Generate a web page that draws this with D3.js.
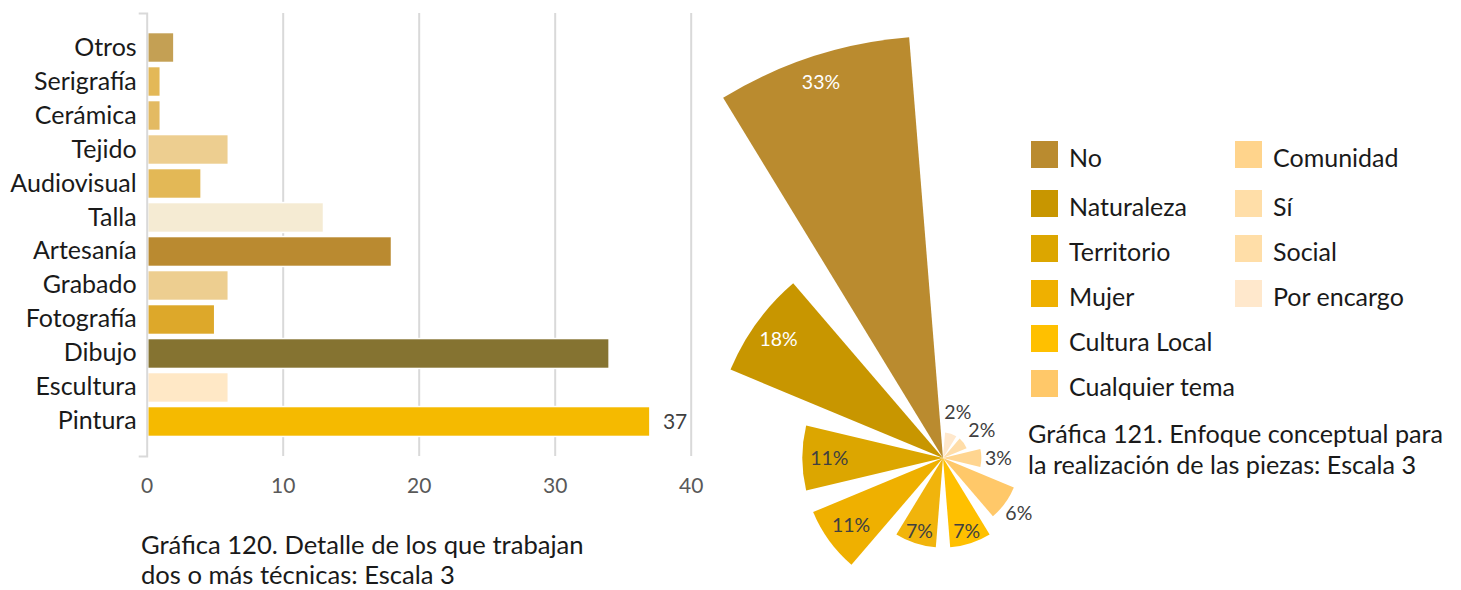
<!DOCTYPE html>
<html>
<head>
<meta charset="utf-8">
<script src="https://cdn.jsdelivr.net/npm/d3@7"></script>
<style>
  html, body { margin: 0; padding: 0; background: #fff; }
  svg { display: block; }
  text { font-family: Lato, "Open Sans", sans-serif; }
</style>
</head>
<body>
<svg id="chart" width="1461" height="590"></svg>
<script>
// ---- Gráfica 120 data ----
const barCategories = ['Otros','Serigrafía','Cerámica','Tejido','Audiovisual','Talla','Artesanía','Grabado','Fotografía','Dibujo','Escultura','Pintura'];
const barValues = [2, 1, 1, 6, 4, 13, 18, 6, 5, 34, 6, 37];
const barColors = ['#C4A054','#E3B857','#E3BA62','#EDCE90','#E3B856','#F5EBD3','#BA8A30','#EDCE90','#DDA82A','#857331','#FFE8C6','#F5BA00'];
const xTickValues = [0, 10, 20, 30, 40];
const barLabelled = ['Pintura'];

// ---- Gráfica 121 data ----
const pieCategories = ['No','Naturaleza','Territorio','Mujer','Cultura Local','Cualquier tema','Comunidad','Sí','Social','Por encargo'];
const pieValues = [33, 18, 11, 11, 7, 7, 6, 3, 2, 2];
const pieColors = ['#BA8B2F','#C89600','#DCA600','#EFB000','#F1B40C','#FFC000','#FFC869','#FFD590','#FFDDA8','#FFE8CC'];
const legendLabels = ['No','Naturaleza','Territorio','Mujer','Cultura Local','Cualquier tema','Comunidad','Sí','Social','Por encargo'];
const legendColors = ['#BA8B2F','#C89600','#DCA600','#EFB000','#FFC000','#FFC869','#FFD48C','#FFDEA8','#FFDEA8','#FFE8CC'];

const caption120 = ['Gráfica 120. Detalle de los que trabajan', 'dos o más técnicas: Escala 3'];
const caption121 = ['Gráfica 121. Enfoque conceptual para', 'la realización de las piezas: Escala 3'];

const svg = d3.select('#chart');

// ================= BAR CHART =================
const x = d3.scaleLinear().domain([0, 40]).range([146.7, 690.7]);
const y = d3.scaleBand().domain(barCategories).range([13, 456]).paddingInner(0.12).paddingOuter(0.575);

const bar = svg.append('g');

// gridlines
bar.append('g')
  .attr('transform', 'translate(0,456)')
  .call(d3.axisBottom(x).tickValues(xTickValues.slice(1)).tickSize(-443).tickFormat(''))
  .call(g => g.select('.domain').remove())
  .call(g => g.selectAll('.tick line').attr('stroke', '#d9d9d9').attr('stroke-width', 2));

// bars
bar.append('g').selectAll('rect')
  .data(barCategories)
  .join('rect')
  .attr('x', x(0) + 1)
  .attr('y', d => y(d))
  .attr('width', (d, i) => x(barValues[i]) - x(0) - 1)
  .attr('height', y.bandwidth())
  .attr('fill', (d, i) => barColors[i])
  .attr('stroke', '#fff')
  .attr('stroke-width', 1.5);

// y axis
bar.append('g')
  .attr('transform', `translate(${x(0)},0)`)
  .call(d3.axisLeft(y).tickSize(0).tickSizeOuter(8).tickPadding(10))
  .call(g => g.select('.domain').attr('stroke', '#d9d9d9').attr('stroke-width', 2))
  .call(g => g.selectAll('.tick text').attr('font-family', 'Lato, sans-serif').attr('font-size', 25).attr('fill', '#1a1a1a'));

// x axis labels
bar.append('g')
  .attr('transform', 'translate(0,456)')
  .call(d3.axisBottom(x).tickValues(xTickValues).tickSize(0).tickPadding(22))
  .call(g => g.select('.domain').remove())
  .call(g => g.selectAll('.tick text').attr('font-family', 'Lato, sans-serif').attr('font-size', 21).attr('fill', '#595959'));

// value label
bar.append('g').selectAll('text')
  .data(barCategories.filter(c => barLabelled.includes(c)))
  .join('text')
  .attr('x', d => x(barValues[barCategories.indexOf(d)]) + 13)
  .attr('y', d => y(d) + y.bandwidth() / 2)
  .attr('dy', '0.36em')
  .attr('font-size', 21)
  .attr('fill', '#404040')
  .text(d => barValues[barCategories.indexOf(d)]);

// caption 120
svg.append('g').selectAll('text')
  .data(caption120)
  .join('text')
  .attr('x', 141)
  .attr('y', (d, i) => 554 + i * 30)
  .attr('font-size', 25.6)
  .attr('fill', '#1a1a1a')
  .text(d => d);

// ================= POLAR CHART =================
const cx = 943, cy = 458;
const r = d3.scaleLinear().domain([0, d3.max(pieValues)]).range([0, 422]);
const ang = d3.scaleBand().domain(pieCategories).range([0, -2 * Math.PI]).paddingInner(0.2556).paddingOuter(0.1278);
const arc = d3.arc();

const pie = svg.append('g').attr('transform', `translate(${cx},${cy})`);
const slices = pieCategories.map((c, i) => ({
  cat: c, value: pieValues[i], color: pieColors[i],
  startAngle: ang(c), endAngle: ang(c) + ang.bandwidth(),
  innerRadius: 0, outerRadius: r(pieValues[i])
}));

pie.selectAll('path')
  .data(slices)
  .join('path')
  .attr('d', d => arc(d))
  .attr('fill', d => d.color);

pie.selectAll('text')
  .data(slices)
  .join('text')
  .each(function(d) {
    const mid = (d.startAngle + d.endAngle) / 2;
    let lr;
    if (d.value >= 10) lr = d.outerRadius - 27;
    else if (d.value >= 7) lr = d.outerRadius - 13;
    else lr = Math.max(d.outerRadius + 17, 48);
    d3.select(this)
      .attr('x', lr * Math.sin(mid))
      .attr('y', -lr * Math.cos(mid));
  })
  .attr('text-anchor', 'middle')
  .attr('dy', '0.36em')
  .attr('font-size', 19.5)
  .attr('fill', d => d.value >= 15 ? '#ffffff' : '#404040')
  .text(d => d.value + '%');

// legend
const legend = svg.append('g');
const legendItems = legendLabels.map((l, i) => {
  const col = i < 6 ? 0 : 1;
  const row = col === 0 ? i : i - 6;
  return { label: l, color: legendColors[i], col, row };
});
const lg = legend.selectAll('g')
  .data(legendItems)
  .join('g')
  .attr('transform', d => `translate(${d.col === 0 ? 1031 : 1235},${141 + d.row * 45 + (d.row > 0 ? 4 : 0)})`);
lg.append('rect').attr('width', 27).attr('height', 27).attr('fill', d => d.color);
lg.append('text').attr('x', 38).attr('y', 26).attr('font-size', 25).attr('fill', '#1a1a1a').text(d => d.label);

// caption 121
svg.append('g').selectAll('text')
  .data(caption121)
  .join('text')
  .attr('x', 1028)
  .attr('y', (d, i) => 443 + i * 31)
  .attr('font-size', 25.2)
  .attr('fill', '#1a1a1a')
  .text(d => d);
</script>
</body>
</html>
